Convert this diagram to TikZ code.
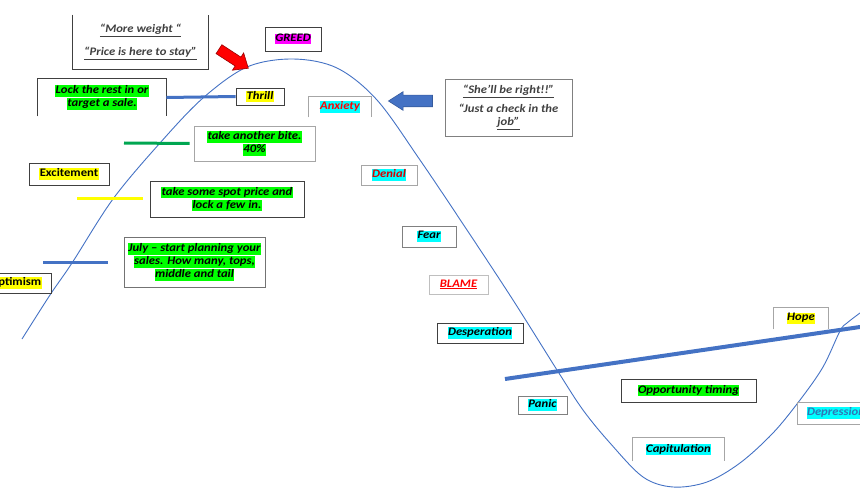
\documentclass[tikz,border=0pt]{standalone}
\usepackage{fontspec}
\setmainfont{Carlito}[FakeStretch=1.1]
\usepackage{tikz}
\usetikzlibrary{shapes.arrows}
\definecolor{lineblue}{HTML}{4472C4}
\definecolor{linegreen}{HTML}{00A651}
\definecolor{hlgreen}{HTML}{00FF00}
\definecolor{hlyellow}{HTML}{FFFF00}
\definecolor{hlcyan}{HTML}{00FFFF}
\definecolor{hlpink}{HTML}{FF00FF}
\definecolor{deepblue}{HTML}{2E75B6}
\newcommand{\hl}[2]{{\setlength{\fboxsep}{0.4pt}\colorbox{#1}{\rule[-2.6pt]{0pt}{10pt}#2}}}
\tikzset{
  stage/.style={draw=black!75,line width=0.8pt,align=center,inner sep=0pt,
    font=\fontsize{11.5}{13}\selectfont\bfseries\itshape},
  stagelight/.style={stage,draw=black!35},
  bare/.style={stage,draw=none},
  boxline/.style={draw=black!75,line width=0.8pt},
  boxlight/.style={draw=black!35,line width=0.8pt},
  marker/.style={line width=3pt},
  curve/.style={lineblue,line width=0.9pt},
  bigarrow/.style={single arrow,inner xsep=0pt,line width=0.6pt}
}
\begin{document}
\begin{tikzpicture}[x=1pt,y=-1pt]
\useasboundingbox (0,0) rectangle (860,500);
\clip (0,0) rectangle (860,500);
% the market cycle
\draw[curve] plot[smooth,tension=0.55] coordinates {(22,339) (50,295) (72,263)
  (113,199) (160,143) (203,98) (247,67) (293,59) (337,68) (377,100) (420,160)
  (467,230) (513,300) (557,370) (583,410) (610,443) (643,477) (673,487)
  (707,482) (740,463) (773,433) (800,400) (823,367) (840,331) (847,323) (860,313)};
% boxes on the way up
\node[bare,minimum width=135pt,minimum height=54pt,text=black!75] (weight) at (140.5,42)
  {\underline{“More weight “}\\[10pt]\underline{“Price is here to stay”}};
\node[stage,minimum width=56pt,minimum height=24pt] (greed) at (293,39) {\hl{hlpink}{GREED}};
\node[bare,minimum width=128pt,minimum height=37pt] (lock) at (102,97.5)
  {\hl{hlgreen}{Lock the rest in or}\\\hl{hlgreen}{target a sale.}};
\node[stage,minimum width=48pt,minimum height=17pt] (thrill) at (260,96.5) {\hl{hlyellow}{Thrill}};
\node[stagelight,minimum width=121pt,minimum height=35pt] (bite) at (254.5,143.5)
  {\hl{hlgreen}{take another bite.}\\\hl{hlgreen}{40\%}};
\node[stage,minimum width=80pt,minimum height=22pt,font=\fontsize{11.5}{13}\selectfont\bfseries] (excite) at (69,174)
  {\hl{hlyellow}{Excitement}};
\node[stage,minimum width=154pt,minimum height=36pt] (spot) at (227,199)
  {\hl{hlgreen}{take some spot price and}\\\hl{hlgreen}{lock a few in.}};
\node[stage,draw=black!55,minimum width=141pt,minimum height=50pt] (july) at (194.5,262)
  {\hl{hlgreen}{July – start planning your}\\\hl{hlgreen}{sales. How many, tops,}\\\hl{hlgreen}{middle and tail}};
\node[stage,minimum width=71pt,minimum height=20pt,font=\fontsize{11.5}{13}\selectfont\bfseries] (optim) at (15.5,283)
  {\hl{hlyellow}{Optimism}};
% boxes on the way down
\node[bare,minimum width=62pt,minimum height=20pt,text=red] (anxiety) at (340,107) {\hl{hlcyan}{Anxiety}};
\node[stage,draw=black!50,minimum width=127pt,minimum height=57pt,text=black!75] (right) at (508.5,107.5)
  {\underline{“She’ll be right!!”}\\[6pt]“Just a check in the\\\underline{job”}};
\node[stagelight,minimum width=56pt,minimum height=20pt,text=red!85!black] (denial) at (389,175) {\hl{hlcyan}{Denial}};
\node[stage,draw=black!50,minimum width=54pt,minimum height=21pt] (fear) at (429,236.5) {\hl{hlcyan}{Fear}};
\node[stagelight,draw=black!25,minimum width=59pt,minimum height=19pt,text=red] (blame) at (458.5,284.5) {\underline{BLAME}};
\node[stage,minimum width=86pt,minimum height=20pt] (desp) at (480,333) {\hl{hlcyan}{Desperation}};
\node[stage,draw=black!50,minimum width=49pt,minimum height=18pt] (panic) at (542.5,405) {\hl{hlcyan}{Panic}};
\node[stage,minimum width=135pt,minimum height=23pt] (timing) at (688.5,390.5) {\hl{hlgreen}{Opportunity timing}};
\node[bare,minimum width=91pt,minimum height=23pt] (capit) at (678.5,449.5) {\hl{hlcyan}{Capitulation}};
\node[bare,minimum width=54pt,minimum height=21pt] (hope) at (801,318.5) {\hl{hlyellow}{Hope}};
\node[stagelight,minimum width=78pt,minimum height=22pt,text=deepblue] (depress) at (836,413) {\hl{hlcyan}{Depression}};
% open sides
\draw[boxline] (weight.north west) -- (weight.south west) -- (weight.south east) -- (weight.north east);
\draw[boxline] (lock.south west) -- (lock.north west) -- (lock.north east) -- (lock.south east);
\draw[boxlight] (anxiety.south west) -- (anxiety.north west) -- (anxiety.north east) -- (anxiety.south east);
\draw[boxlight] (capit.south west) -- (capit.north west) -- (capit.north east) -- (capit.south east);
\draw[boxlight] (hope.south west) -- (hope.north west) -- (hope.north east) -- (hope.south east);
% markers
\coordinate (greenend) at (124,143);
\coordinate (yellowend) at (77,199);
\coordinate (blueend) at (43,262);
\coordinate (trendstart) at (505,379);
\coordinate (trendend) at (860,327);
\draw[marker,lineblue] (lock.east) -- (thrill.west);
\draw[marker,linegreen] (greenend) -- ([xshift=-4pt]bite.west);
\draw[marker,hlyellow] (yellowend) -- ([xshift=-7pt]spot.west);
\draw[marker,lineblue] (blueend) -- ([xshift=-16pt]july.west);
\draw[lineblue,line width=4pt] (trendstart) -- (trendend);
% pointers
\node[bigarrow,fill=red,draw=red!60!black,inner ysep=5pt,single arrow head extend=5pt,
  single arrow tip angle=80,minimum height=35pt,rotate=-33] (peak) at (231,57) {};
\node[bigarrow,fill=lineblue,draw=lineblue!80!black,inner ysep=5.5pt,single arrow head extend=3.5pt,
  single arrow tip angle=65,minimum height=44pt,rotate=180] (calm) at (415,101) {};
\end{tikzpicture}
\end{document}
